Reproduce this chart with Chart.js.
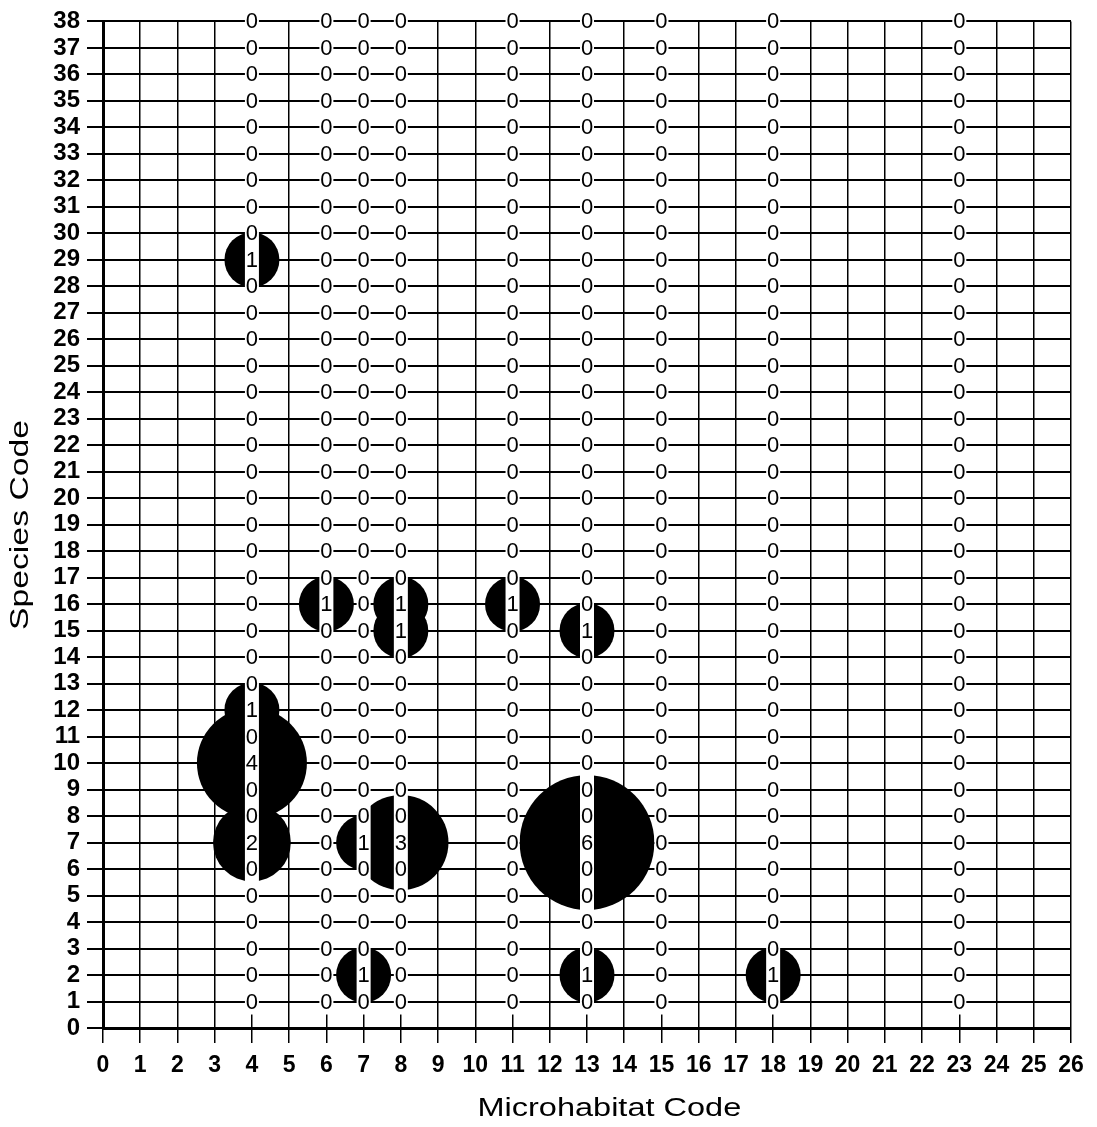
<!DOCTYPE html>
<html>
<head>
<meta charset="utf-8">
<script src="https://cdn.jsdelivr.net/npm/chart.js@4.4.1/dist/chart.umd.min.js"></script>
<style>
  html, body { margin: 0; padding: 0; background: #fff; }
  #wrap { width: 1097px; height: 1127px; }
</style>
</head>
<body>
<div id="wrap"><canvas id="c" width="1097" height="1127"></canvas></div>
<script>
// ---- data ----
const xTickValues = [0,1,2,3,4,5,6,7,8,9,10,11,12,13,14,15,16,17,18,19,20,21,22,23,24,25,26];
const yTickValues = [0,1,2,3,4,5,6,7,8,9,10,11,12,13,14,15,16,17,18,19,20,21,22,23,24,25,26,27,28,29,30,31,32,33,34,35,36,37,38];
const microhabitatColumns = [4, 6, 7, 8, 11, 13, 15, 18, 23];
const speciesCodes = [1,2,3,4,5,6,7,8,9,10,11,12,13,14,15,16,17,18,19,20,21,22,23,24,25,26,27,28,29,30,31,32,33,34,35,36,37,38];
const obsMicrohabitat = [4, 4, 4, 4, 6, 7, 7, 8, 8, 8, 11, 13, 13, 13, 18];
const obsSpecies      = [29, 12, 10, 7, 16, 7, 2, 16, 15, 7, 16, 15, 7, 2, 2];
const obsCount        = [1, 1, 4, 2, 1, 1, 1, 1, 1, 3, 1, 1, 6, 1, 1];
const xTitle = 'Microhabitat Code';
const yTitle = 'Species Code';

// build bubble table from the arrays
const points = [];
microhabitatColumns.forEach(function (mx) {
  speciesCodes.forEach(function (sy) {
    let v = 0;
    for (let i = 0; i < obsCount.length; i++) {
      if (obsMicrohabitat[i] === mx && obsSpecies[i] === sy) v = obsCount[i];
    }
    points.push({ x: mx, y: sy, v: v });
  });
});

const FONT = '"Liberation Sans", Arial, Helvetica, sans-serif';
const UNIT_R = 27.5;

// bubble controller that does not reserve extra padding for large bubbles
class FlatBubbleController extends Chart.BubbleController {
  getMaxOverflow() { return false; }
}
FlatBubbleController.id = 'flatBubble';
FlatBubbleController.defaults = Chart.BubbleController.defaults;
FlatBubbleController.overrides = Chart.BubbleController.overrides;
Chart.register(FlatBubbleController);

const labelPlugin = {
  id: 'cellLabels',
  afterDatasetsDraw(chart) {
    const ctx = chart.ctx;
    const xs = chart.scales.x, ys = chart.scales.y;
    ctx.save();
    ctx.fillStyle = '#ffffff';
    const top = ys.getPixelForValue(speciesCodes[speciesCodes.length - 1]) - 13;
    const bot = ys.getPixelForValue(speciesCodes[0]) + 13;
    microhabitatColumns.forEach(function (mx) {
      const px = xs.getPixelForValue(mx);
      ctx.fillRect(px - 7, top, 14, bot - top);
    });
    ctx.fillStyle = '#000';
    ctx.font = '22px ' + FONT;
    ctx.textAlign = 'center';
    ctx.textBaseline = 'middle';
    const meta = chart.getDatasetMeta(0);
    meta.data.forEach(function (el, i) {
      const d = chart.data.datasets[0].data[i];
      ctx.fillText(String(d.v), el.x, el.y + 1);
    });
    ctx.restore();
  },
  afterDraw(chart) {
    const ctx = chart.ctx;
    const xs = chart.scales.x;
    ctx.save();
    ctx.fillStyle = '#000';
    ctx.font = '25px ' + FONT;
    ctx.textAlign = 'center';
    ctx.textBaseline = 'alphabetic';
    // x title
    ctx.save();
    ctx.translate(xs.getPixelForValue(13.6), 1116);
    ctx.scale(1.3, 1);
    ctx.fillText(xTitle, 0, 0);
    ctx.restore();
    // y title
    ctx.save();
    ctx.translate(28, 525);
    ctx.rotate(-Math.PI / 2);
    ctx.scale(1.35, 1);
    ctx.fillText(yTitle, 0, 0);
    ctx.restore();
    ctx.restore();
  }
};

new Chart(document.getElementById('c'), {
  type: 'flatBubble',
  data: {
    datasets: [{
      data: points,
      backgroundColor: '#000',
      borderWidth: 0,
      radius: function (ctx) {
        const r = ctx.raw ? ctx.raw.v : 0;
        return r > 0 ? UNIT_R * Math.sqrt(r) : 0;
      },
      hoverRadius: 0,
      clip: false
    }]
  },
  options: {
    responsive: false,
    animation: false,
    events: [],
    devicePixelRatio: 1,
    layout: { padding: { top: 18, right: 26, left: 0, bottom: 0 } },
    plugins: { legend: { display: false }, tooltip: { enabled: false } },
    scales: {
      x: {
        type: 'linear', min: 0, max: 26,
        afterBuildTicks: function (s) { s.ticks = xTickValues.map(function (v) { return { value: v }; }); },
        afterFit: function (s) { s.height = 99; },
        ticks: { autoSkip: false, maxRotation: 0, color: '#000', padding: 9,
                 font: { family: FONT, size: 23, weight: 'bold' } },
        grid: { color: '#000', lineWidth: 1.5, tickLength: 15, tickWidth: 1.5, tickColor: '#000' },
        border: { color: '#000', width: 3 },
        title: { display: false }
      },
      y: {
        type: 'linear', min: 0, max: 38,
        afterBuildTicks: function (s) { s.ticks = yTickValues.map(function (v) { return { value: v }; }); },
        afterFit: function (s) { s.width = 103; },
        ticks: { autoSkip: false, color: '#000', padding: 7,
                 font: { family: FONT, size: 24, weight: 'bold' } },
        grid: { color: '#000', lineWidth: 2, tickLength: 16, tickWidth: 2, tickColor: '#000' },
        border: { color: '#000', width: 3 },
        title: { display: false }
      }
    }
  },
  plugins: [labelPlugin]
});
</script>
</body>
</html>
